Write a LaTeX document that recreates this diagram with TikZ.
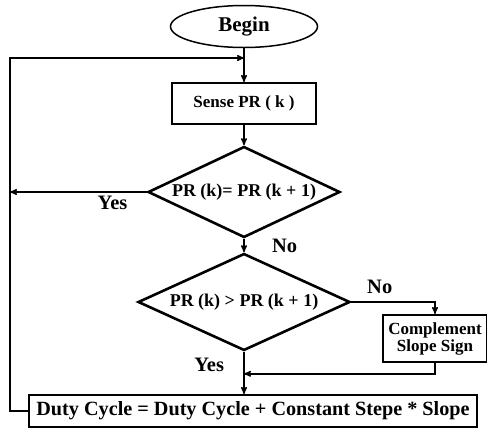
\documentclass[tikz,border=0pt]{standalone}
\usepackage{fontspec}
\setmainfont{Liberation Serif}
\usepackage{tikz}
\usetikzlibrary{arrows,shapes.geometric}
\newcommand{\flowfont}[1]{\fontsize{#1}{#1}\selectfont\bfseries}

\begin{document}
\begin{tikzpicture}[->,>=stealth',x=1pt,y=1pt,line width=1.4pt]
  \tikzstyle{terminal}=[ellipse,draw,line width=1.5pt,minimum width=147pt,minimum height=42pt,font=\flowfont{21}]
  \tikzstyle{process}=[rectangle,draw,line width=2pt,minimum width=144pt,minimum height=41pt,font=\flowfont{17}]
  \tikzstyle{decision}=[diamond,draw,line width=2.6pt,inner sep=0pt,font=\flowfont{18}]
  \tikzstyle{answer}=[font=\flowfont{20.5}]

  \useasboundingbox (0,0) rectangle (487,-429);

  \node[terminal] (begin) at (244,-26.5) {Begin};
  \node[process] (sense) [node distance=77pt,below of=begin] {Sense PR ( k )};
  \node[decision,aspect=2.11,minimum width=192pt,minimum height=91pt] (test1) [node distance=88.5pt,below of=sense] {PR (k)= PR (k + 1)};
  \node[decision,aspect=2.19,minimum width=212pt,minimum height=97pt] (test2) [node distance=110pt,below of=test1] {PR (k) > PR (k + 1)};
  \node[process,minimum width=448pt,minimum height=32pt,font=\flowfont{20.2}] (duty) [node distance=109pt,below of=test2,xshift=9pt] {Duty Cycle = Duty Cycle + Constant Stepe * Slope};
  \node[process,minimum width=104pt,minimum height=47pt,align=center,font=\flowfont{17}] (comp) at (435,-338.5) {Complement\\Slope Sign};

  \coordinate (looptop) at (10,-58);
  \coordinate (join) at (begin.south |- looptop);
  \coordinate (merge) at ([yshift=-22pt]test2.south);

  \draw (begin) -- (sense);
  \draw (sense) -- (test1);
  \draw (test1.west) -- node[answer,below,pos=0.25] {Yes} (test1.west -| looptop);
  \draw (test1) -- node[answer,right,xshift=24pt] {No} (test2);
  \draw (test2.east) -| node[answer,above,pos=0.17,yshift=4pt] {No} (comp.north);
  \draw (comp.south) |- (merge);
  \draw (test2.south) -- node[answer,left,pos=0.3,xshift=-16pt] {Yes} (test2.south |- duty.north);
  \draw (duty.west) -| (looptop) -- (join);
\end{tikzpicture}
\end{document}
